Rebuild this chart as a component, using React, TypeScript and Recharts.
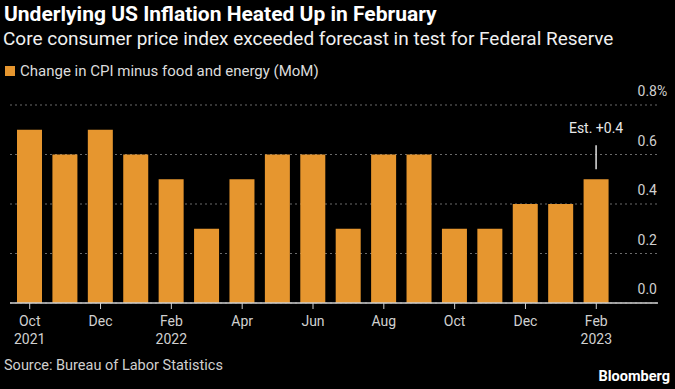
import React from 'react';
import {
  BarChart,
  Bar,
  XAxis,
  YAxis,
  CartesianGrid,
  LabelList,
} from 'recharts';

// Core CPI, month over month change (%)
const periods = [
  '2021-10', '2021-11', '2021-12', '2022-01', '2022-02', '2022-03', '2022-04', '2022-05', '2022-06',
  '2022-07', '2022-08', '2022-09', '2022-10', '2022-11', '2022-12', '2023-01', '2023-02',
];
const monthLabels = [
  'Oct', 'Nov', 'Dec', 'Jan', 'Feb', 'Mar', 'Apr', 'May', 'Jun',
  'Jul', 'Aug', 'Sep', 'Oct', 'Nov', 'Dec', 'Jan', 'Feb',
];
const yearLabels = ['2021', '', '', '', '2022', '', '', '', '', '', '', '', '', '', '', '', '2023'];
const coreCpi = [0.7, 0.6, 0.7, 0.6, 0.5, 0.3, 0.5, 0.6, 0.6, 0.3, 0.6, 0.6, 0.3, 0.3, 0.4, 0.4, 0.5];
const yTicks = [0, 0.2, 0.4, 0.6, 0.8];
const estimateLabel = 'Est. +0.4';

const ORANGE = '#E6962F';
const FONT = 'Roboto, "Noto Sans", sans-serif';
const TICK_RIGHT = 657;

const data = periods.map((p, i) => ({ period: p, value: coreCpi[i] }));

function MonthTick(props: any) {
  const { x, y, payload } = props;
  const i = payload.index;
  return (
    <g>
      <text x={x} y={y + 15} textAnchor="middle" fill="#d0d0d0" fontSize={14} fontFamily={FONT}>
        {monthLabels[i]}
      </text>
      {yearLabels[i] && (
        <text x={x} y={y + 33} textAnchor="middle" fill="#d0d0d0" fontSize={14} fontFamily={FONT}>
          {yearLabels[i]}
        </text>
      )}
    </g>
  );
}

function ValueTick(props: any) {
  const { y, payload } = props;
  const v = payload.value as number;
  return (
    <g>
      <text x={TICK_RIGHT} y={y - 9} textAnchor="end" fill="#d0d0d0" fontSize={14} fontFamily={FONT}>
        {v.toFixed(1)}
      </text>
      {v === 0.8 && (
        <text x={TICK_RIGHT} y={y - 9} textAnchor="start" fill="#d0d0d0" fontSize={14} fontFamily={FONT}>
          %
        </text>
      )}
    </g>
  );
}

function EstimateMark(props: any) {
  const { x, y, width, index } = props;
  if (index !== coreCpi.length - 1) return null;
  const cx = x + width / 2;
  return (
    <g>
      <line x1={cx} x2={cx} y1={y - 34} y2={y - 10} stroke="#e0e0e0" strokeWidth={1.5} />
      <text x={cx} y={y - 46} textAnchor="middle" fill="#e8e8e8" fontSize={14} fontFamily={FONT}>
        {estimateLabel}
      </text>
    </g>
  );
}

export default function App() {
  return (
    <div
      style={{
        position: 'fixed',
        top: 0,
        left: 0,
        width: 675,
        height: 389,
        background: '#000',
        overflow: 'hidden',
        fontFamily: FONT,
      }}
    >
      <div style={{ position: 'absolute', left: 4, top: 2, color: '#fff', fontSize: 21, fontWeight: 700, whiteSpace: 'nowrap' }}>
        Underlying US Inflation Heated Up in February
      </div>
      <div style={{ position: 'absolute', left: 3, top: 27, color: '#f0f0f0', fontSize: 19, whiteSpace: 'nowrap' }}>
        Core consumer price index exceeded forecast in test for Federal Reserve
      </div>
      <div style={{ position: 'absolute', left: 5, top: 62, color: '#dcdcdc', fontSize: 15, whiteSpace: 'nowrap', display: 'flex', alignItems: 'center' }}>
        <span style={{ display: 'inline-block', width: 10, height: 10, background: ORANGE, marginRight: 5 }} />
        Change in CPI minus food and energy (MoM)
      </div>

      <div style={{ position: 'absolute', left: 0, top: 0 }}>
        <BarChart
          width={675}
          height={389}
          data={data}
          margin={{ top: 105, right: 0, bottom: 46, left: 10 }}
        >
          <CartesianGrid vertical={false} stroke="#6a6a6a" strokeDasharray="2 3" />
          <XAxis
            dataKey="period"
            height={40}
            interval={1}
            padding={{ left: 2, right: 44 }}
            axisLine={{ stroke: '#cfcfcf', strokeWidth: 1.5 }}
            tickLine={{ stroke: '#cfcfcf' }}
            tickSize={6}
            tick={<MonthTick />}
          />
          <YAxis
            orientation="right"
            width={17}
            domain={[0, 0.8]}
            ticks={yTicks}
            axisLine={false}
            tickLine={false}
            tick={<ValueTick />}
          />
          <Bar dataKey="value" fill={ORANGE} barSize={25} isAnimationActive={false}>
            <LabelList dataKey="value" content={<EstimateMark />} />
          </Bar>
        </BarChart>
      </div>

      <div style={{ position: 'absolute', left: 4, top: 357, color: '#d0d0d0', fontSize: 14.5, whiteSpace: 'nowrap' }}>
        Source: Bureau of Labor Statistics
      </div>
      <div style={{ position: 'absolute', right: 5, top: 368, color: '#fff', fontSize: 14.5, fontWeight: 700, whiteSpace: 'nowrap' }}>
        Bloomberg
      </div>
    </div>
  );
}
